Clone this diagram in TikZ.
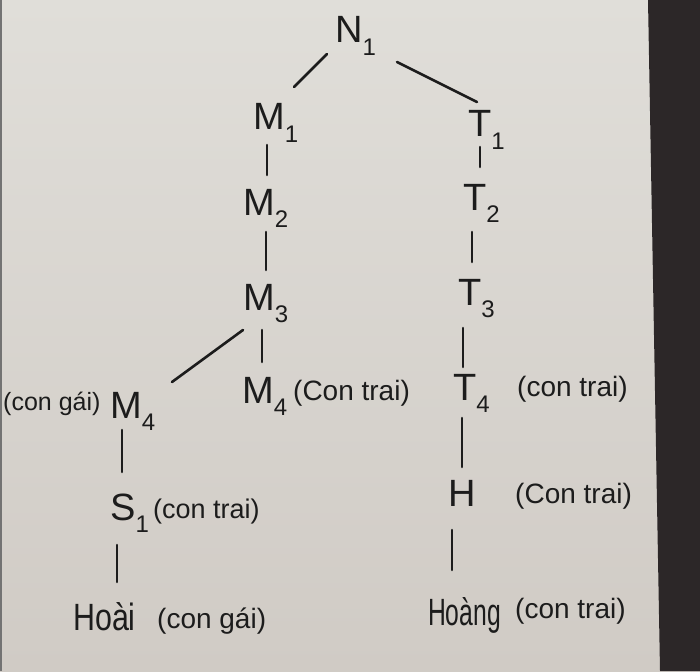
\documentclass[tikz,border=0pt]{standalone}
\usepackage{fontspec}
\setmainfont{Liberation Sans}
\newcommand{\lowidx}[1]{\raisebox{-0.32em}{\fontsize{24}{24}\selectfont #1}}
\definecolor{paperlight}{HTML}{E0DED9}
\definecolor{paperdark}{HTML}{D0CBC5}
\definecolor{desk}{HTML}{2C2728}
\definecolor{ink}{HTML}{1C1C1C}
\tikzset{
  person/.style={anchor=base west, inner sep=0pt, text=ink, font=\fontsize{38}{38}\selectfont},
  note/.style={anchor=base west, inner sep=0pt, text=ink, font=\fontsize{28}{28}\selectfont},
  link/.style={draw=ink, line width=2.6pt, line cap=round}
}
\begin{document}
\begin{tikzpicture}[x=1pt,y=-1pt]
\useasboundingbox (0,0) rectangle (700,671);
% paper and desk
\shade[top color=paperlight, bottom color=paperdark] (0,0) rectangle (700,671);
\fill[desk] (648,0) -- (700,0) -- (700,671) -- (660,671) -- cycle;
\fill[black!55] (0,0) rectangle (1.5,671);
% names
\node[person] (n1) at (335,43) {N\lowidx{1}};
\node[person] (m1) at (253,130) {M\lowidx{1}};
\node[person] (m2) at (243,215) {M\lowidx{2}};
\node[person] (m3) at (243,310) {M\lowidx{3}};
\node[person] (m4l) at (110,418) {M\lowidx{4}};
\node[person] (m4r) at (242,403) {M\lowidx{4}};
\node[person] (s1) at (110,520) {S\lowidx{1}};
\node[person, xscale=0.8, transform shape] (hoai) at (73,630) {Hoài};
\node[person, xscale=0.65, transform shape] (hoang) at (428,625) {Hoàng};
\node[person] (t1) at (468,137) {T\lowidx{1}};
\node[person] (t2) at (463,210) {T\lowidx{2}};
\node[person] (t3) at (458,305) {T\lowidx{3}};
\node[person] (t4) at (453,400) {T\lowidx{4}};
\node[person] (h) at (448,506) {H};
% notes
\node[note, font=\fontsize{25}{25}\selectfont] (g1) at (3,410) {(con gái)};
\node[note] (g2) at (293,400) {(Con trai)};
\node[note] (g3) at (517,396) {(con trai)};
\node[note] (g4) at (515,503) {(Con trai)};
\node[note, font=\fontsize{27}{27}\selectfont] (g5) at (153,518) {(con trai)};
\node[note] (g6) at (157,628) {(con gái)};
\node[note] (g7) at (515,618) {(con trai)};
% connectors
\draw[link] ([shift={(-8,11)}]n1.base west) -- ([shift={(41,-43)}]m1.base west);
\draw[link] ([shift={(62,19)}]n1.base west) -- ([shift={(9,-35)}]t1.base west);
\draw[link] ([shift={(14,15)}]m1.base west) -- ([shift={(24,-40)}]m2.base west);
\draw[link] ([shift={(12,10)}]t1.base west) -- ([shift={(17,-43)}]t2.base west);
\draw[link] ([shift={(23,17)}]m2.base west) -- ([shift={(23,-40)}]m3.base west);
\draw[link] ([shift={(9,22)}]t2.base west) -- ([shift={(14,-43)}]t3.base west);
\draw[link] ([shift={(0,20)}]m3.base west) -- ([shift={(62,-36)}]m4l.base west);
\draw[link] ([shift={(19,20)}]m3.base west) -- ([shift={(20,-41)}]m4r.base west);
\draw[link] ([shift={(5,23)}]t3.base west) -- ([shift={(10,-33)}]t4.base west);
\draw[link] ([shift={(12,12)}]m4l.base west) -- ([shift={(12,-48)}]s1.base west);
\draw[link] ([shift={(9,18)}]t4.base west) -- ([shift={(14,-39)}]h.base west);
\draw[link] ([shift={(7,25)}]s1.base west) -- ([shift={(44,-48)}]hoai.base west);
\draw[link] ([shift={(4,24)}]h.base west) -- ([shift={(24,-55)}]hoang.base west);
\end{tikzpicture}
\end{document}
